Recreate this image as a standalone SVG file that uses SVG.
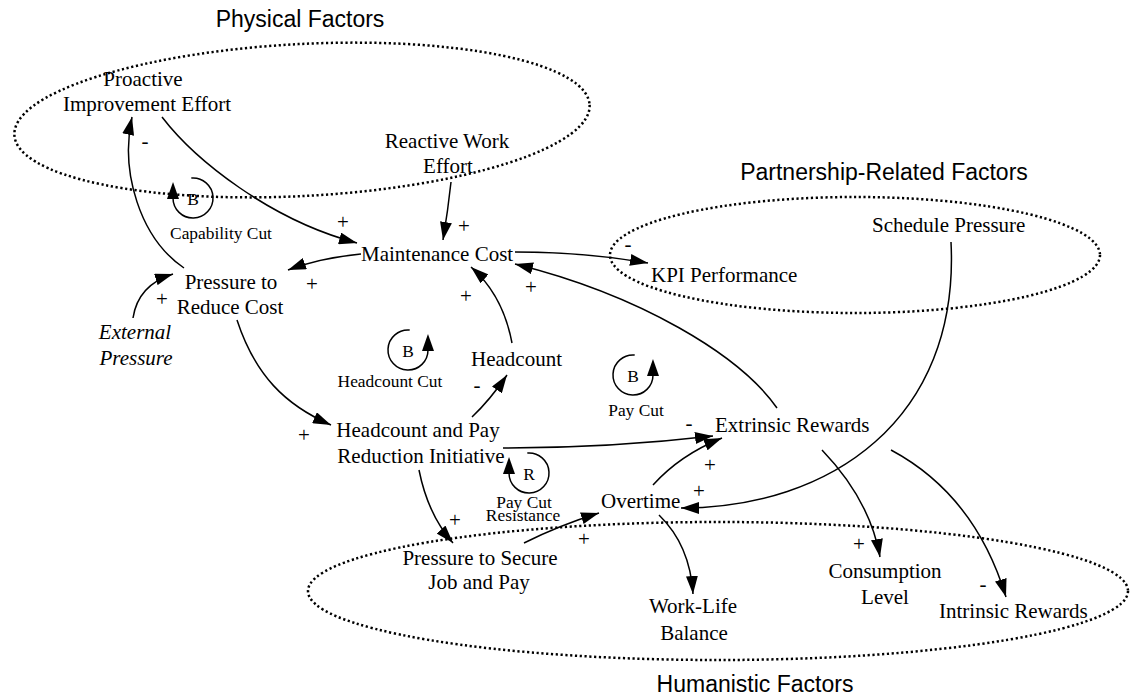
<svg xmlns="http://www.w3.org/2000/svg" width="1130" height="698" viewBox="0 0 1130 698">
<style>
.n{font-family:"Liberation Serif","Times New Roman",serif;font-size:21px;fill:#000}
.ni{font-family:"Liberation Serif","Times New Roman",serif;font-size:21px;font-style:italic;fill:#000}
.s{font-family:"Liberation Serif","Times New Roman",serif;font-size:21px;fill:#000;text-anchor:middle}
.l{font-family:"Liberation Serif","Times New Roman",serif;font-size:17.4px;fill:#000;text-anchor:middle}
.t{font-family:"Liberation Sans",Arial,sans-serif;font-size:23px;fill:#000;text-anchor:middle}
.g{fill:none;stroke:#000;stroke-width:2.5;stroke-dasharray:2.2 2.6}
.c{fill:none;stroke:#000;stroke-width:1.5;marker-end:url(#ah)}
.lp{fill:none;stroke:#000;stroke-width:1.5;marker-end:url(#lh)}
</style>
<defs>
<marker id="ah" markerUnits="userSpaceOnUse" markerWidth="18" markerHeight="12" refX="18" refY="6" orient="auto"><path d="M0,0 L18,6 L0,12 z" fill="#000"/></marker>
<marker id="lh" markerUnits="userSpaceOnUse" markerWidth="17" markerHeight="12" refX="1" refY="6" orient="auto"><path d="M0,0 L17,6 L0,12 z" fill="#000"/></marker>
</defs>
<rect width="1130" height="698" fill="#fff"/>

<g id="groups">
<ellipse class="g" cx="302" cy="120" rx="288" ry="76" transform="rotate(-3 302 120)"/>
<ellipse class="g" cx="855" cy="255" rx="245" ry="58"/>
<ellipse class="g" cx="718" cy="591" rx="410" ry="69"/>
<text class="t" x="300" y="27">Physical Factors</text>
<text class="t" x="884" y="180">Partnership-Related Factors</text>
<text class="t" x="755" y="692">Humanistic Factors</text>
</g>

<g id="connectors">
<path class="c" d="M162,117 C195,160 270,220 357,243"/>
<path class="c" d="M451,182 Q448,210 443,240"/>
<path class="c" d="M361,254 Q320,258 288,270"/>
<path class="c" d="M184,268 C140,238 120,172 132,117"/>
<path class="c" d="M133,318 Q138,285 173,274"/>
<path class="c" d="M237,320 C255,375 285,405 331,425"/>
<path class="c" d="M472,417 Q490,400 507,375"/>
<path class="c" d="M512,343 Q503,295 471,267"/>
<path class="c" d="M777,408 C740,355 640,295 515,264"/>
<path class="c" d="M515,252 Q585,252 648,263"/>
<path class="c" d="M503,448 Q610,448 713,436"/>
<path class="c" d="M653,485 Q680,455 722,438"/>
<path class="c" d="M951,242 C960,420 830,508 681,508"/>
<path class="c" d="M822,450 Q870,500 880,557"/>
<path class="c" d="M891,450 Q975,495 1006,597"/>
<path class="c" d="M419,470 Q428,515 453,543"/>
<path class="c" d="M524,543 Q560,525 599,513"/>
<path class="c" d="M659,515 Q690,545 693,594"/>
</g>

<g id="polarities">
<text class="s" x="162" y="306">+</text>
<text class="s" x="145" y="148">-</text>
<text class="s" x="343" y="229">+</text>
<text class="s" x="464" y="233">+</text>
<text class="s" x="312" y="291">+</text>
<text class="s" x="466" y="303">+</text>
<text class="s" x="531" y="294">+</text>
<text class="s" x="628" y="251">-</text>
<text class="s" x="304" y="442">+</text>
<text class="s" x="477" y="392">-</text>
<text class="s" x="689" y="430">-</text>
<text class="s" x="710" y="472">+</text>
<text class="s" x="699" y="498">+</text>
<text class="s" x="455" y="527">+</text>
<text class="s" x="584" y="546">+</text>
<text class="s" x="859" y="551">+</text>
<text class="s" x="983" y="591">-</text>
</g>

<g id="loop-capability-cut">
<path class="lp" d="M191.3,178.1 A20,20 0 1 1 173,198"/>
<text class="l" x="193" y="205">B</text>
<text class="l" x="221" y="239">Capability Cut</text>
</g>
<g id="loop-headcount-cut">
<path class="lp" d="M409.7,330.1 A20,20 0 1 0 428,350"/>
<text class="l" x="408" y="357">B</text>
<text class="l" x="390" y="387">Headcount Cut</text>
</g>
<g id="loop-pay-cut">
<path class="lp" d="M634.7,355.1 A20,20 0 1 0 653,375"/>
<text class="l" x="633" y="382">B</text>
<text class="l" x="636" y="416">Pay Cut</text>
</g>
<g id="loop-pay-cut-resistance">
<path class="lp" d="M527.3,453.1 A20,20 0 1 1 509,473"/>
<text class="l" x="529" y="480">R</text>
<text class="l" x="524" y="508">Pay Cut</text>
<text class="l" x="523" y="521">Resistance</text>
</g>

<g id="node-proactive"><text class="n" text-anchor="middle"><tspan x="143" y="86">Proactive</tspan><tspan x="147" y="111">Improvement Effort</tspan></text></g>
<g id="node-reactive"><text class="n" text-anchor="middle"><tspan x="447" y="148">Reactive Work</tspan><tspan x="448" y="173">Effort</tspan></text></g>
<g id="node-maintenance"><text class="n" x="361" y="261">Maintenance Cost</text></g>
<g id="node-pressure-reduce"><text class="n" text-anchor="middle"><tspan x="231" y="289">Pressure to</tspan><tspan x="230" y="314">Reduce Cost</tspan></text></g>
<g id="node-external"><text class="ni" text-anchor="middle"><tspan x="135" y="339">External</tspan><tspan x="136" y="365">Pressure</tspan></text></g>
<g id="node-kpi"><text class="n" x="651" y="282">KPI Performance</text></g>
<g id="node-schedule"><text class="n" x="872" y="232">Schedule Pressure</text></g>
<g id="node-headcount"><text class="n" x="471" y="366">Headcount</text></g>
<g id="node-hpri"><text class="n" text-anchor="middle"><tspan x="418" y="437">Headcount and Pay</tspan><tspan x="421" y="463">Reduction Initiative</tspan></text></g>
<g id="node-extrinsic"><text class="n" x="715" y="432">Extrinsic Rewards</text></g>
<g id="node-overtime"><text class="n" x="601" y="508">Overtime</text></g>
<g id="node-secure"><text class="n" text-anchor="middle"><tspan x="480" y="565">Pressure to Secure</tspan><tspan x="479" y="589">Job and Pay</tspan></text></g>
<g id="node-worklife"><text class="n" text-anchor="middle"><tspan x="693" y="613">Work-Life</tspan><tspan x="694" y="640">Balance</tspan></text></g>
<g id="node-consumption"><text class="n" text-anchor="middle"><tspan x="885" y="578">Consumption</tspan><tspan x="885" y="604">Level</tspan></text></g>
<g id="node-intrinsic"><text class="n" x="939" y="618">Intrinsic Rewards</text></g>
</svg>
